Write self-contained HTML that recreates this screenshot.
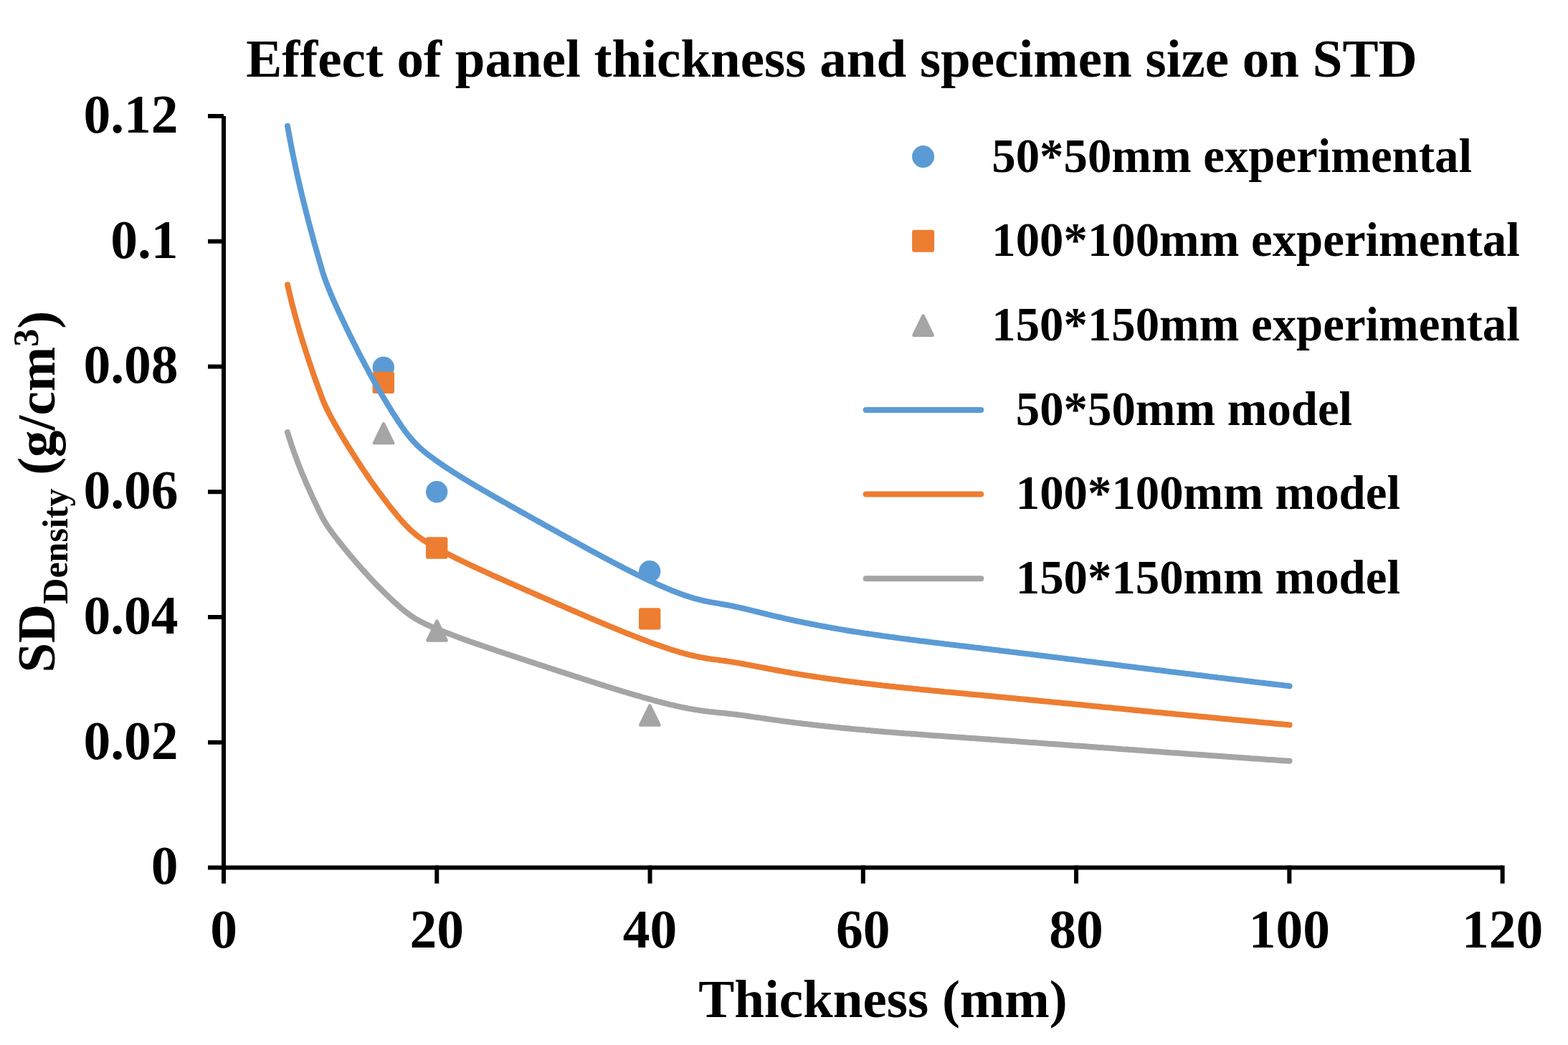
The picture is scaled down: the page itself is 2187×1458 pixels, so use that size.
<!DOCTYPE html><html><head><meta charset="utf-8"><title>Effect of panel thickness and specimen size on STD</title>
<style>html,body{margin:0;padding:0;background:#fff;width:2187px;height:1458px;overflow:hidden}svg{display:block}</style></head><body>
<svg width="2187" height="1458" viewBox="0 0 2187 1458">
<rect width="2187" height="1458" fill="#fff"/>
<text x="343.3" y="107" font-size="75" font-family="'Liberation Serif', serif" font-weight="bold" fill="#000">Effect of panel thickness and specimen size on STD</text>
<g stroke="#000" stroke-width="6" fill="none">
<line x1="312" y1="162" x2="312" y2="1232.7"/>
<line x1="309" y1="1210.5" x2="2095.6" y2="1210.5"/>
<line x1="290" y1="162.00" x2="312" y2="162.00"/>
<line x1="290" y1="336.75" x2="312" y2="336.75"/>
<line x1="290" y1="511.50" x2="312" y2="511.50"/>
<line x1="290" y1="686.25" x2="312" y2="686.25"/>
<line x1="290" y1="861.00" x2="312" y2="861.00"/>
<line x1="290" y1="1035.75" x2="312" y2="1035.75"/>
<line x1="290" y1="1210.50" x2="312" y2="1210.50"/>
<line x1="609.27" y1="1207.5" x2="609.27" y2="1232.7"/>
<line x1="906.54" y1="1207.5" x2="906.54" y2="1232.7"/>
<line x1="1203.81" y1="1207.5" x2="1203.81" y2="1232.7"/>
<line x1="1501.08" y1="1207.5" x2="1501.08" y2="1232.7"/>
<line x1="1798.35" y1="1207.5" x2="1798.35" y2="1232.7"/>
<line x1="2095.62" y1="1207.5" x2="2095.62" y2="1232.7"/>
</g>
<text x="248.5" y="1233.3" font-size="75.5" text-anchor="end" font-family="'Liberation Serif', serif" font-weight="bold">0</text>
<text x="248.5" y="1058.5" font-size="75.5" text-anchor="end" font-family="'Liberation Serif', serif" font-weight="bold">0.02</text>
<text x="248.5" y="883.8" font-size="75.5" text-anchor="end" font-family="'Liberation Serif', serif" font-weight="bold">0.04</text>
<text x="248.5" y="709.0" font-size="75.5" text-anchor="end" font-family="'Liberation Serif', serif" font-weight="bold">0.06</text>
<text x="248.5" y="534.3" font-size="75.5" text-anchor="end" font-family="'Liberation Serif', serif" font-weight="bold">0.08</text>
<text x="248.5" y="359.6" font-size="75.5" text-anchor="end" font-family="'Liberation Serif', serif" font-weight="bold">0.1</text>
<text x="248.5" y="184.8" font-size="75.5" text-anchor="end" font-family="'Liberation Serif', serif" font-weight="bold">0.12</text>
<text x="312.00" y="1322" font-size="75.5" text-anchor="middle" font-family="'Liberation Serif', serif" font-weight="bold">0</text>
<text x="609.27" y="1322" font-size="75.5" text-anchor="middle" font-family="'Liberation Serif', serif" font-weight="bold">20</text>
<text x="906.54" y="1322" font-size="75.5" text-anchor="middle" font-family="'Liberation Serif', serif" font-weight="bold">40</text>
<text x="1203.81" y="1322" font-size="75.5" text-anchor="middle" font-family="'Liberation Serif', serif" font-weight="bold">60</text>
<text x="1501.08" y="1322" font-size="75.5" text-anchor="middle" font-family="'Liberation Serif', serif" font-weight="bold">80</text>
<text x="1798.35" y="1322" font-size="75.5" text-anchor="middle" font-family="'Liberation Serif', serif" font-weight="bold">100</text>
<text x="2095.62" y="1322" font-size="75.5" text-anchor="middle" font-family="'Liberation Serif', serif" font-weight="bold">120</text>
<text x="974.2" y="1419.1" font-size="75" font-family="'Liberation Serif', serif" font-weight="bold">Thickness (mm)</text>
<text transform="translate(76,938.6) rotate(-90)" font-size="75" font-family="'Liberation Serif', serif" font-weight="bold">SD<tspan font-size="50" dy="18.3">Density</tspan><tspan dy="-18.3"> (g/cm</tspan><tspan font-size="50" dy="-23">3</tspan><tspan dy="23">)</tspan></text>
<circle cx="534.80" cy="512.60" r="15.20" fill="#5B9BD5"/>
<circle cx="609.20" cy="686.20" r="15.20" fill="#5B9BD5"/>
<circle cx="906.20" cy="797.30" r="15.20" fill="#5B9BD5"/>
<rect x="519.60" y="518.60" width="30.40" height="30.40" rx="3" fill="#ED7D31"/>
<rect x="594.00" y="749.30" width="30.40" height="30.40" rx="3" fill="#ED7D31"/>
<rect x="891.00" y="848.20" width="30.40" height="30.40" rx="3" fill="#ED7D31"/>
<polygon points="535.00,591.18 548.19,618.15 521.81,618.15" fill="#A5A5A5" stroke="#A5A5A5" stroke-width="4.4" stroke-linejoin="round"/>
<polygon points="609.50,866.58 622.69,893.55 596.31,893.55" fill="#A5A5A5" stroke="#A5A5A5" stroke-width="4.4" stroke-linejoin="round"/>
<polygon points="906.40,984.58 919.59,1011.55 893.21,1011.55" fill="#A5A5A5" stroke="#A5A5A5" stroke-width="4.4" stroke-linejoin="round"/>
<path d="M401.0 175.7 L401.9 181.0 L402.9 186.3 L403.9 191.7 L404.9 197.0 L405.9 202.3 L406.9 207.6 L408.0 212.9 L409.1 218.2 L410.2 223.5 L411.3 228.8 L412.4 234.1 L413.6 239.3 L414.7 244.6 L415.9 249.9 L417.1 255.2 L418.3 260.4 L419.6 265.7 L420.8 271.0 L422.1 276.2 L423.4 281.5 L424.7 286.7 L426.0 292.0 L427.3 297.2 L428.7 302.4 L430.0 307.7 L431.4 312.9 L432.8 318.1 L434.2 323.3 L435.6 328.6 L437.0 333.8 L438.4 339.0 L439.9 344.2 L441.3 349.4 L442.8 354.6 L444.3 359.8 L445.8 365.0 L447.3 370.1 L448.8 375.3 L450.3 380.5 L451.3 383.5 L452.3 386.4 L453.3 389.4 L454.4 392.3 L455.5 395.2 L456.6 398.1 L457.7 401.0 L458.9 403.9 L460.1 406.8 L461.3 409.7 L462.5 412.6 L463.7 415.5 L465.0 418.4 L466.2 421.2 L467.5 424.1 L468.8 426.9 L470.1 429.8 L471.4 432.6 L472.7 435.5 L474.0 438.3 L475.4 441.1 L476.7 444.0 L478.0 446.8 L479.4 449.6 L480.7 452.4 L482.1 455.3 L483.4 458.1 L484.8 460.9 L486.2 463.7 L487.5 466.5 L488.9 469.3 L490.3 472.1 L491.7 474.9 L493.1 477.7 L494.5 480.5 L495.9 483.2 L497.3 486.0 L498.7 488.8 L500.1 491.6 L501.5 494.3 L503.0 497.1 L504.4 499.9 L505.8 502.6 L507.3 505.4 L508.7 508.1 L510.2 510.9 L511.7 513.6 L513.2 516.4 L514.6 519.1 L516.1 521.9 L517.6 524.6 L519.1 527.3 L520.6 530.0 L522.2 532.8 L523.7 535.5 L525.2 538.2 L526.8 540.9 L528.3 543.6 L529.9 546.3 L531.5 549.0 L533.1 551.7 L534.7 554.4 L536.3 557.0 L537.9 559.7 L539.5 562.4 L541.1 565.1 L542.7 567.7 L544.4 570.4 L546.0 573.1 L547.7 575.7 L549.4 578.4 L551.1 581.0 L552.8 583.7 L554.5 586.3 L556.2 588.9 L558.0 591.5 L559.7 594.1 L561.5 596.7 L563.3 599.2 L565.2 601.8 L567.1 604.3 L569.0 606.7 L570.9 609.1 L572.9 611.5 L575.0 613.9 L577.0 616.2 L579.2 618.4 L581.3 620.7 L583.6 622.8 L585.8 624.9 L588.1 627.0 L590.5 629.0 L592.9 631.0 L595.3 633.0 L597.8 634.9 L600.3 636.8 L602.8 638.6 L605.3 640.4 L607.8 642.3 L610.4 644.1 L612.9 645.8 L615.5 647.6 L618.1 649.4 L620.6 651.1 L623.2 652.8 L625.8 654.5 L628.4 656.2 L631.0 657.9 L633.6 659.6 L636.2 661.2 L638.9 662.9 L641.5 664.5 L644.1 666.2 L646.8 667.8 L649.4 669.4 L652.1 671.0 L654.7 672.6 L657.4 674.2 L660.1 675.8 L662.7 677.4 L665.4 679.0 L668.1 680.6 L670.8 682.1 L673.5 683.7 L676.2 685.3 L678.9 686.8 L681.6 688.4 L684.3 689.9 L687.0 691.5 L689.7 693.0 L692.4 694.6 L695.2 696.1 L697.9 697.7 L700.6 699.2 L703.3 700.8 L706.1 702.3 L708.8 703.9 L711.5 705.4 L714.3 707.0 L717.0 708.5 L719.8 710.1 L722.5 711.6 L725.3 713.2 L728.0 714.7 L730.8 716.3 L733.5 717.8 L736.3 719.4 L739.0 720.9 L741.8 722.4 L744.5 724.0 L747.3 725.5 L750.0 727.1 L752.8 728.6 L755.5 730.1 L758.3 731.7 L761.0 733.2 L763.8 734.7 L766.5 736.2 L769.3 737.8 L772.0 739.3 L774.8 740.8 L777.5 742.3 L780.3 743.9 L783.0 745.4 L785.8 746.9 L788.5 748.4 L791.2 749.9 L794.0 751.4 L796.7 752.9 L799.4 754.4 L802.2 755.9 L804.9 757.4 L807.6 758.9 L810.3 760.4 L813.1 761.9 L815.8 763.4 L818.5 764.9 L821.2 766.4 L823.9 767.9 L826.6 769.4 L829.4 770.8 L832.1 772.3 L834.8 773.8 L837.5 775.2 L840.2 776.7 L843.0 778.2 L845.7 779.6 L848.4 781.1 L851.2 782.5 L853.9 784.0 L856.6 785.4 L859.4 786.8 L862.1 788.3 L864.9 789.7 L867.6 791.1 L870.4 792.6 L873.2 794.0 L875.9 795.4 L878.7 796.8 L881.5 798.2 L884.3 799.6 L887.1 801.0 L889.9 802.4 L892.7 803.7 L895.5 805.1 L898.3 806.5 L901.2 807.9 L904.0 809.2 L906.9 810.6 L909.7 811.9 L912.6 813.2 L915.5 814.6 L918.4 815.9 L921.3 817.2 L924.2 818.4 L927.1 819.7 L930.0 820.9 L932.9 822.2 L935.8 823.4 L938.8 824.5 L941.7 825.7 L944.7 826.8 L947.6 827.9 L950.6 829.0 L953.5 830.1 L956.5 831.1 L959.5 832.0 L962.4 833.0 L965.4 833.9 L968.4 834.8 L971.4 835.6 L974.4 836.4 L977.4 837.2 L980.4 837.9 L983.4 838.6 L986.4 839.2 L989.4 839.8 L992.4 840.4 L995.4 840.9 L998.5 841.4 L1001.5 841.9 L1004.5 842.4 L1007.5 843.0 L1010.6 843.5 L1013.6 844.0 L1016.6 844.6 L1019.6 845.2 L1022.7 845.8 L1025.7 846.5 L1028.8 847.1 L1031.8 847.8 L1034.8 848.5 L1037.9 849.2 L1040.9 849.9 L1043.9 850.6 L1047.0 851.4 L1050.0 852.1 L1053.1 852.8 L1056.1 853.6 L1059.2 854.4 L1062.2 855.1 L1065.3 855.9 L1068.3 856.6 L1071.4 857.4 L1074.4 858.1 L1077.5 858.9 L1080.5 859.6 L1083.6 860.3 L1086.7 861.0 L1089.7 861.7 L1092.8 862.4 L1095.8 863.1 L1098.9 863.8 L1102.0 864.5 L1105.0 865.1 L1108.1 865.8 L1111.2 866.5 L1114.2 867.1 L1117.3 867.7 L1120.4 868.4 L1123.4 869.0 L1126.5 869.6 L1129.6 870.2 L1132.6 870.8 L1135.7 871.4 L1138.8 872.0 L1141.9 872.6 L1144.9 873.2 L1148.0 873.8 L1151.1 874.3 L1154.2 874.9 L1157.2 875.4 L1160.3 876.0 L1163.4 876.5 L1166.5 877.1 L1169.6 877.6 L1172.6 878.1 L1175.7 878.6 L1178.8 879.2 L1181.9 879.7 L1185.0 880.2 L1188.0 880.7 L1191.1 881.2 L1194.2 881.6 L1197.3 882.1 L1200.4 882.6 L1203.5 883.1 L1206.5 883.6 L1209.6 884.0 L1212.7 884.5 L1215.8 884.9 L1218.9 885.4 L1222.0 885.8 L1225.1 886.3 L1228.1 886.7 L1231.2 887.2 L1234.3 887.6 L1237.4 888.0 L1240.5 888.5 L1243.6 888.9 L1246.7 889.3 L1249.8 889.7 L1252.8 890.1 L1255.9 890.6 L1259.0 891.0 L1262.1 891.4 L1265.2 891.8 L1268.3 892.2 L1271.4 892.6 L1274.5 893.0 L1277.6 893.4 L1280.7 893.8 L1283.8 894.2 L1286.9 894.5 L1290.0 894.9 L1293.0 895.3 L1296.1 895.7 L1299.2 896.1 L1302.3 896.5 L1305.4 896.8 L1308.5 897.2 L1311.6 897.6 L1314.7 898.0 L1317.8 898.4 L1320.9 898.7 L1324.0 899.1 L1327.1 899.5 L1330.2 899.8 L1333.3 900.2 L1336.4 900.6 L1339.5 901.0 L1342.6 901.3 L1345.7 901.7 L1348.8 902.1 L1351.9 902.4 L1355.0 902.8 L1358.1 903.2 L1361.2 903.6 L1364.3 903.9 L1367.4 904.3 L1370.5 904.7 L1373.6 905.1 L1376.7 905.4 L1379.8 905.8 L1382.9 906.2 L1386.0 906.6 L1389.1 906.9 L1392.2 907.3 L1395.3 907.7 L1398.4 908.1 L1401.5 908.5 L1404.6 908.8 L1407.7 909.2 L1410.8 909.6 L1413.9 910.0 L1417.0 910.3 L1420.1 910.7 L1423.2 911.1 L1426.3 911.5 L1429.4 911.9 L1432.5 912.3 L1435.6 912.6 L1438.7 913.0 L1441.8 913.4 L1444.9 913.8 L1448.0 914.2 L1451.1 914.6 L1454.2 914.9 L1457.3 915.3 L1460.5 915.7 L1463.6 916.1 L1466.7 916.5 L1469.8 916.9 L1472.9 917.2 L1476.0 917.6 L1479.1 918.0 L1482.2 918.4 L1485.3 918.8 L1488.4 919.2 L1491.5 919.6 L1494.6 919.9 L1497.7 920.3 L1500.8 920.7 L1503.9 921.1 L1507.0 921.5 L1510.1 921.9 L1513.2 922.3 L1516.3 922.7 L1519.5 923.0 L1522.6 923.4 L1525.7 923.8 L1528.8 924.2 L1531.9 924.6 L1535.0 925.0 L1538.1 925.4 L1541.2 925.8 L1544.3 926.1 L1547.4 926.5 L1550.5 926.9 L1553.6 927.3 L1556.7 927.7 L1559.8 928.1 L1562.9 928.5 L1566.0 928.9 L1569.1 929.2 L1572.2 929.6 L1575.3 930.0 L1578.5 930.4 L1581.6 930.8 L1584.7 931.2 L1587.8 931.6 L1590.9 932.0 L1594.0 932.3 L1597.1 932.7 L1600.2 933.1 L1603.3 933.5 L1606.4 933.9 L1609.5 934.3 L1612.6 934.7 L1615.7 935.0 L1618.8 935.4 L1621.9 935.8 L1625.0 936.2 L1628.1 936.6 L1631.2 937.0 L1634.3 937.4 L1637.4 937.7 L1640.5 938.1 L1643.7 938.5 L1646.8 938.9 L1649.9 939.3 L1653.0 939.7 L1656.1 940.0 L1659.2 940.4 L1662.3 940.8 L1665.4 941.2 L1668.5 941.6 L1671.6 942.0 L1674.7 942.3 L1677.8 942.7 L1680.9 943.1 L1684.0 943.5 L1687.1 943.9 L1690.2 944.2 L1693.3 944.6 L1696.4 945.0 L1699.5 945.4 L1702.6 945.7 L1705.7 946.1 L1708.8 946.5 L1711.9 946.9 L1715.0 947.2 L1718.1 947.6 L1721.2 948.0 L1724.3 948.4 L1727.4 948.7 L1730.5 949.1 L1733.6 949.5 L1736.7 949.9 L1739.8 950.2 L1742.9 950.6 L1746.0 951.0 L1749.1 951.4 L1752.2 951.7 L1755.3 952.1 L1758.4 952.5 L1761.5 952.8 L1764.6 953.2 L1767.7 953.6 L1770.8 953.9 L1773.8 954.3 L1776.9 954.7 L1780.0 955.0 L1783.1 955.4 L1786.2 955.8 L1789.3 956.1 L1792.4 956.5 L1795.5 956.8 L1798.6 957.2" fill="none" stroke="#5B9BD5" stroke-width="8" stroke-linecap="round" stroke-linejoin="round"/>
<path d="M401.0 397.1 L401.9 401.3 L402.9 405.5 L403.9 409.7 L404.9 413.9 L405.9 418.0 L406.9 422.2 L408.0 426.4 L409.1 430.5 L410.2 434.7 L411.3 438.9 L412.4 443.0 L413.6 447.2 L414.7 451.3 L415.9 455.5 L417.1 459.6 L418.3 463.8 L419.6 467.9 L420.8 472.0 L422.1 476.2 L423.4 480.3 L424.7 484.4 L426.0 488.5 L427.3 492.6 L428.7 496.8 L430.0 500.9 L431.4 505.0 L432.8 509.1 L434.2 513.2 L435.6 517.3 L437.0 521.4 L438.4 525.5 L439.9 529.6 L441.3 533.7 L442.8 537.7 L444.3 541.8 L445.8 545.9 L447.3 550.0 L448.8 554.1 L450.3 558.1 L451.3 560.4 L452.3 562.8 L453.3 565.1 L454.4 567.4 L455.5 569.7 L456.6 572.0 L457.7 574.3 L458.9 576.5 L460.1 578.8 L461.3 581.1 L462.5 583.4 L463.7 585.6 L465.0 587.9 L466.2 590.1 L467.5 592.4 L468.8 594.6 L470.1 596.9 L471.4 599.1 L472.7 601.3 L474.0 603.6 L475.4 605.8 L476.7 608.0 L478.0 610.2 L479.4 612.5 L480.7 614.7 L482.1 616.9 L483.4 619.1 L484.8 621.3 L486.2 623.5 L487.5 625.7 L488.9 627.9 L490.3 630.1 L491.7 632.3 L493.1 634.5 L494.5 636.7 L495.9 638.9 L497.3 641.1 L498.7 643.2 L500.1 645.4 L501.5 647.6 L503.0 649.8 L504.4 652.0 L505.8 654.1 L507.3 656.3 L508.7 658.4 L510.2 660.6 L511.7 662.8 L513.2 664.9 L514.6 667.1 L516.1 669.2 L517.6 671.4 L519.1 673.5 L520.6 675.7 L522.2 677.8 L523.7 679.9 L525.2 682.1 L526.8 684.2 L528.3 686.3 L529.9 688.4 L531.5 690.5 L533.1 692.7 L534.7 694.8 L536.3 696.9 L537.9 699.0 L539.5 701.1 L541.1 703.2 L542.7 705.3 L544.4 707.4 L546.0 709.5 L547.7 711.6 L549.4 713.6 L551.1 715.7 L552.8 717.8 L554.5 719.9 L556.2 721.9 L558.0 724.0 L559.7 726.0 L561.5 728.0 L563.3 730.0 L565.2 732.0 L567.1 734.0 L569.0 735.9 L570.9 737.8 L572.9 739.7 L575.0 741.6 L577.0 743.4 L579.2 745.1 L581.3 746.9 L583.6 748.6 L585.8 750.2 L588.1 751.9 L590.5 753.5 L592.9 755.0 L595.3 756.5 L597.8 758.1 L600.3 759.5 L602.8 761.0 L605.3 762.4 L607.8 763.9 L610.4 765.3 L612.9 766.7 L615.5 768.1 L618.1 769.4 L620.6 770.8 L623.2 772.2 L625.8 773.5 L628.4 774.8 L631.0 776.2 L633.6 777.5 L636.2 778.8 L638.9 780.1 L641.5 781.4 L644.1 782.7 L646.8 783.9 L649.4 785.2 L652.1 786.5 L654.7 787.7 L657.4 789.0 L660.1 790.2 L662.7 791.5 L665.4 792.7 L668.1 794.0 L670.8 795.2 L673.5 796.4 L676.2 797.7 L678.9 798.9 L681.6 800.1 L684.3 801.3 L687.0 802.6 L689.7 803.8 L692.4 805.0 L695.2 806.2 L697.9 807.4 L700.6 808.7 L703.3 809.9 L706.1 811.1 L708.8 812.3 L711.5 813.5 L714.3 814.7 L717.0 816.0 L719.8 817.2 L722.5 818.4 L725.3 819.6 L728.0 820.8 L730.8 822.0 L733.5 823.3 L736.3 824.5 L739.0 825.7 L741.8 826.9 L744.5 828.1 L747.3 829.3 L750.0 830.5 L752.8 831.7 L755.5 832.9 L758.3 834.1 L761.0 835.3 L763.8 836.5 L766.5 837.7 L769.3 838.9 L772.0 840.1 L774.8 841.3 L777.5 842.5 L780.3 843.7 L783.0 844.9 L785.8 846.1 L788.5 847.3 L791.2 848.5 L794.0 849.7 L796.7 850.8 L799.4 852.0 L802.2 853.2 L804.9 854.4 L807.6 855.6 L810.3 856.7 L813.1 857.9 L815.8 859.1 L818.5 860.3 L821.2 861.4 L823.9 862.6 L826.6 863.8 L829.4 864.9 L832.1 866.1 L834.8 867.2 L837.5 868.4 L840.2 869.5 L843.0 870.7 L845.7 871.8 L848.4 873.0 L851.2 874.1 L853.9 875.2 L856.6 876.4 L859.4 877.5 L862.1 878.6 L864.9 879.8 L867.6 880.9 L870.4 882.0 L873.2 883.1 L875.9 884.2 L878.7 885.3 L881.5 886.4 L884.3 887.5 L887.1 888.6 L889.9 889.7 L892.7 890.8 L895.5 891.9 L898.3 893.0 L901.2 894.0 L904.0 895.1 L906.9 896.2 L909.7 897.2 L912.6 898.3 L915.5 899.3 L918.4 900.3 L921.3 901.3 L924.2 902.3 L927.1 903.3 L930.0 904.3 L932.9 905.3 L935.8 906.2 L938.8 907.1 L941.7 908.0 L944.7 908.9 L947.6 909.8 L950.6 910.6 L953.5 911.5 L956.5 912.3 L959.5 913.0 L962.4 913.8 L965.4 914.5 L968.4 915.2 L971.4 915.8 L974.4 916.5 L977.4 917.1 L980.4 917.6 L983.4 918.2 L986.4 918.7 L989.4 919.1 L992.4 919.6 L995.4 920.0 L998.5 920.4 L1001.5 920.8 L1004.5 921.2 L1007.5 921.6 L1010.6 922.0 L1013.6 922.5 L1016.6 922.9 L1019.6 923.4 L1022.7 923.9 L1025.7 924.4 L1028.8 924.9 L1031.8 925.4 L1034.8 926.0 L1037.9 926.5 L1040.9 927.1 L1043.9 927.6 L1047.0 928.2 L1050.0 928.8 L1053.1 929.4 L1056.1 930.0 L1059.2 930.6 L1062.2 931.2 L1065.3 931.8 L1068.3 932.3 L1071.4 932.9 L1074.4 933.5 L1077.5 934.1 L1080.5 934.7 L1083.6 935.2 L1086.7 935.8 L1089.7 936.4 L1092.8 936.9 L1095.8 937.5 L1098.9 938.0 L1102.0 938.5 L1105.0 939.1 L1108.1 939.6 L1111.2 940.1 L1114.2 940.6 L1117.3 941.1 L1120.4 941.6 L1123.4 942.1 L1126.5 942.6 L1129.6 943.0 L1132.6 943.5 L1135.7 944.0 L1138.8 944.5 L1141.9 944.9 L1144.9 945.4 L1148.0 945.8 L1151.1 946.3 L1154.2 946.7 L1157.2 947.1 L1160.3 947.6 L1163.4 948.0 L1166.5 948.4 L1169.6 948.8 L1172.6 949.2 L1175.7 949.7 L1178.8 950.1 L1181.9 950.5 L1185.0 950.9 L1188.0 951.2 L1191.1 951.6 L1194.2 952.0 L1197.3 952.4 L1200.4 952.8 L1203.5 953.2 L1206.5 953.5 L1209.6 953.9 L1212.7 954.3 L1215.8 954.6 L1218.9 955.0 L1222.0 955.3 L1225.1 955.7 L1228.1 956.0 L1231.2 956.4 L1234.3 956.7 L1237.4 957.0 L1240.5 957.4 L1243.6 957.7 L1246.7 958.0 L1249.8 958.4 L1252.8 958.7 L1255.9 959.0 L1259.0 959.3 L1262.1 959.7 L1265.2 960.0 L1268.3 960.3 L1271.4 960.6 L1274.5 960.9 L1277.6 961.2 L1280.7 961.5 L1283.8 961.9 L1286.9 962.2 L1290.0 962.5 L1293.0 962.8 L1296.1 963.1 L1299.2 963.4 L1302.3 963.7 L1305.4 964.0 L1308.5 964.3 L1311.6 964.6 L1314.7 964.9 L1317.8 965.2 L1320.9 965.4 L1324.0 965.7 L1327.1 966.0 L1330.2 966.3 L1333.3 966.6 L1336.4 966.9 L1339.5 967.2 L1342.6 967.5 L1345.7 967.8 L1348.8 968.1 L1351.9 968.4 L1355.0 968.7 L1358.1 969.0 L1361.2 969.2 L1364.3 969.5 L1367.4 969.8 L1370.5 970.1 L1373.6 970.4 L1376.7 970.7 L1379.8 971.0 L1382.9 971.3 L1386.0 971.6 L1389.1 971.9 L1392.2 972.2 L1395.3 972.5 L1398.4 972.8 L1401.5 973.1 L1404.6 973.4 L1407.7 973.7 L1410.8 974.0 L1413.9 974.3 L1417.0 974.6 L1420.1 974.9 L1423.2 975.2 L1426.3 975.5 L1429.4 975.8 L1432.5 976.1 L1435.6 976.4 L1438.7 976.7 L1441.8 977.0 L1444.9 977.3 L1448.0 977.6 L1451.1 977.9 L1454.2 978.2 L1457.3 978.5 L1460.5 978.8 L1463.6 979.1 L1466.7 979.4 L1469.8 979.7 L1472.9 980.0 L1476.0 980.3 L1479.1 980.6 L1482.2 980.9 L1485.3 981.2 L1488.4 981.5 L1491.5 981.8 L1494.6 982.1 L1497.7 982.4 L1500.8 982.7 L1503.9 983.0 L1507.0 983.3 L1510.1 983.6 L1513.2 983.9 L1516.3 984.3 L1519.5 984.6 L1522.6 984.9 L1525.7 985.2 L1528.8 985.5 L1531.9 985.8 L1535.0 986.1 L1538.1 986.4 L1541.2 986.7 L1544.3 987.0 L1547.4 987.3 L1550.5 987.6 L1553.6 987.9 L1556.7 988.2 L1559.8 988.5 L1562.9 988.8 L1566.0 989.1 L1569.1 989.4 L1572.2 989.7 L1575.3 990.0 L1578.5 990.3 L1581.6 990.7 L1584.7 991.0 L1587.8 991.3 L1590.9 991.6 L1594.0 991.9 L1597.1 992.2 L1600.2 992.5 L1603.3 992.8 L1606.4 993.1 L1609.5 993.4 L1612.6 993.7 L1615.7 994.0 L1618.8 994.3 L1621.9 994.6 L1625.0 994.9 L1628.1 995.2 L1631.2 995.5 L1634.3 995.8 L1637.4 996.1 L1640.5 996.4 L1643.7 996.7 L1646.8 997.0 L1649.9 997.3 L1653.0 997.6 L1656.1 997.9 L1659.2 998.2 L1662.3 998.5 L1665.4 998.8 L1668.5 999.1 L1671.6 999.4 L1674.7 999.7 L1677.8 1000.0 L1680.9 1000.3 L1684.0 1000.6 L1687.1 1000.9 L1690.2 1001.2 L1693.3 1001.5 L1696.4 1001.8 L1699.5 1002.1 L1702.6 1002.4 L1705.7 1002.7 L1708.8 1003.0 L1711.9 1003.3 L1715.0 1003.6 L1718.1 1003.9 L1721.2 1004.2 L1724.3 1004.5 L1727.4 1004.8 L1730.5 1005.1 L1733.6 1005.4 L1736.7 1005.6 L1739.8 1005.9 L1742.9 1006.2 L1746.0 1006.5 L1749.1 1006.8 L1752.2 1007.1 L1755.3 1007.4 L1758.4 1007.7 L1761.5 1008.0 L1764.6 1008.3 L1767.7 1008.5 L1770.8 1008.8 L1773.8 1009.1 L1776.9 1009.4 L1780.0 1009.7 L1783.1 1010.0 L1786.2 1010.3 L1789.3 1010.6 L1792.4 1010.8 L1795.5 1011.1 L1798.6 1011.4" fill="none" stroke="#ED7D31" stroke-width="8" stroke-linecap="round" stroke-linejoin="round"/>
<path d="M401.0 603.1 L401.9 606.2 L402.9 609.3 L403.9 612.4 L404.9 615.6 L405.9 618.7 L406.9 621.8 L408.0 624.9 L409.1 628.0 L410.2 631.1 L411.3 634.2 L412.4 637.3 L413.6 640.4 L414.7 643.5 L415.9 646.6 L417.1 649.7 L418.3 652.8 L419.6 655.9 L420.8 659.0 L422.1 662.1 L423.4 665.2 L424.7 668.2 L426.0 671.3 L427.3 674.4 L428.7 677.5 L430.0 680.5 L431.4 683.6 L432.8 686.7 L434.2 689.7 L435.6 692.8 L437.0 695.9 L438.4 698.9 L439.9 702.0 L441.3 705.0 L442.8 708.1 L444.3 711.1 L445.8 714.2 L447.3 717.2 L448.8 720.3 L450.3 723.3 L451.3 725.0 L452.3 726.8 L453.3 728.5 L454.4 730.2 L455.5 731.9 L456.6 733.6 L457.7 735.3 L458.9 737.1 L460.1 738.8 L461.3 740.4 L462.5 742.1 L463.7 743.8 L465.0 745.5 L466.2 747.2 L467.5 748.9 L468.8 750.6 L470.1 752.2 L471.4 753.9 L472.7 755.6 L474.0 757.2 L475.4 758.9 L476.7 760.5 L478.0 762.2 L479.4 763.9 L480.7 765.5 L482.1 767.2 L483.4 768.8 L484.8 770.5 L486.2 772.1 L487.5 773.8 L488.9 775.4 L490.3 777.1 L491.7 778.7 L493.1 780.3 L494.5 782.0 L495.9 783.6 L497.3 785.2 L498.7 786.9 L500.1 788.5 L501.5 790.1 L503.0 791.7 L504.4 793.4 L505.8 795.0 L507.3 796.6 L508.7 798.2 L510.2 799.8 L511.7 801.4 L513.2 803.1 L514.6 804.7 L516.1 806.3 L517.6 807.9 L519.1 809.5 L520.6 811.1 L522.2 812.7 L523.7 814.3 L525.2 815.8 L526.8 817.4 L528.3 819.0 L529.9 820.6 L531.5 822.2 L533.1 823.8 L534.7 825.3 L536.3 826.9 L537.9 828.5 L539.5 830.1 L541.1 831.6 L542.7 833.2 L544.4 834.8 L546.0 836.3 L547.7 837.9 L549.4 839.4 L551.1 841.0 L552.8 842.5 L554.5 844.1 L556.2 845.6 L558.0 847.2 L559.7 848.7 L561.5 850.2 L563.3 851.7 L565.2 853.2 L567.1 854.6 L569.0 856.1 L570.9 857.5 L572.9 858.9 L575.0 860.3 L577.0 861.6 L579.2 863.0 L581.3 864.3 L583.6 865.5 L585.8 866.8 L588.1 868.0 L590.5 869.2 L592.9 870.3 L595.3 871.5 L597.8 872.6 L600.3 873.7 L602.8 874.8 L605.3 875.9 L607.8 876.9 L610.4 878.0 L612.9 879.0 L615.5 880.1 L618.1 881.1 L620.6 882.1 L623.2 883.1 L625.8 884.1 L628.4 885.1 L631.0 886.1 L633.6 887.1 L636.2 888.1 L638.9 889.1 L641.5 890.0 L644.1 891.0 L646.8 891.9 L649.4 892.9 L652.1 893.8 L654.7 894.8 L657.4 895.7 L660.1 896.6 L662.7 897.6 L665.4 898.5 L668.1 899.4 L670.8 900.3 L673.5 901.3 L676.2 902.2 L678.9 903.1 L681.6 904.0 L684.3 904.9 L687.0 905.8 L689.7 906.7 L692.4 907.7 L695.2 908.6 L697.9 909.5 L700.6 910.4 L703.3 911.3 L706.1 912.2 L708.8 913.1 L711.5 914.0 L714.3 914.9 L717.0 915.9 L719.8 916.8 L722.5 917.7 L725.3 918.6 L728.0 919.5 L730.8 920.4 L733.5 921.3 L736.3 922.2 L739.0 923.1 L741.8 924.0 L744.5 924.9 L747.3 925.8 L750.0 926.7 L752.8 927.6 L755.5 928.5 L758.3 929.4 L761.0 930.3 L763.8 931.2 L766.5 932.1 L769.3 933.0 L772.0 933.9 L774.8 934.8 L777.5 935.7 L780.3 936.6 L783.0 937.5 L785.8 938.4 L788.5 939.2 L791.2 940.1 L794.0 941.0 L796.7 941.9 L799.4 942.8 L802.2 943.7 L804.9 944.6 L807.6 945.4 L810.3 946.3 L813.1 947.2 L815.8 948.1 L818.5 948.9 L821.2 949.8 L823.9 950.7 L826.6 951.5 L829.4 952.4 L832.1 953.3 L834.8 954.1 L837.5 955.0 L840.2 955.9 L843.0 956.7 L845.7 957.6 L848.4 958.4 L851.2 959.3 L853.9 960.1 L856.6 961.0 L859.4 961.8 L862.1 962.7 L864.9 963.5 L867.6 964.3 L870.4 965.2 L873.2 966.0 L875.9 966.8 L878.7 967.7 L881.5 968.5 L884.3 969.3 L887.1 970.1 L889.9 970.9 L892.7 971.7 L895.5 972.5 L898.3 973.3 L901.2 974.2 L904.0 974.9 L906.9 975.7 L909.7 976.5 L912.6 977.3 L915.5 978.1 L918.4 978.9 L921.3 979.6 L924.2 980.4 L927.1 981.1 L930.0 981.8 L932.9 982.6 L935.8 983.3 L938.8 983.9 L941.7 984.6 L944.7 985.3 L947.6 985.9 L950.6 986.6 L953.5 987.2 L956.5 987.8 L959.5 988.3 L962.4 988.9 L965.4 989.4 L968.4 990.0 L971.4 990.4 L974.4 990.9 L977.4 991.4 L980.4 991.8 L983.4 992.2 L986.4 992.5 L989.4 992.9 L992.4 993.2 L995.4 993.5 L998.5 993.9 L1001.5 994.2 L1004.5 994.5 L1007.5 994.8 L1010.6 995.1 L1013.6 995.4 L1016.6 995.7 L1019.6 996.1 L1022.7 996.4 L1025.7 996.8 L1028.8 997.2 L1031.8 997.6 L1034.8 998.0 L1037.9 998.4 L1040.9 998.8 L1043.9 999.3 L1047.0 999.7 L1050.0 1000.1 L1053.1 1000.6 L1056.1 1001.0 L1059.2 1001.4 L1062.2 1001.9 L1065.3 1002.3 L1068.3 1002.8 L1071.4 1003.2 L1074.4 1003.6 L1077.5 1004.1 L1080.5 1004.5 L1083.6 1004.9 L1086.7 1005.4 L1089.7 1005.8 L1092.8 1006.2 L1095.8 1006.6 L1098.9 1007.0 L1102.0 1007.4 L1105.0 1007.8 L1108.1 1008.2 L1111.2 1008.6 L1114.2 1008.9 L1117.3 1009.3 L1120.4 1009.7 L1123.4 1010.0 L1126.5 1010.4 L1129.6 1010.8 L1132.6 1011.1 L1135.7 1011.5 L1138.8 1011.8 L1141.9 1012.2 L1144.9 1012.5 L1148.0 1012.8 L1151.1 1013.2 L1154.2 1013.5 L1157.2 1013.8 L1160.3 1014.1 L1163.4 1014.5 L1166.5 1014.8 L1169.6 1015.1 L1172.6 1015.4 L1175.7 1015.7 L1178.8 1016.0 L1181.9 1016.3 L1185.0 1016.6 L1188.0 1016.9 L1191.1 1017.2 L1194.2 1017.5 L1197.3 1017.7 L1200.4 1018.0 L1203.5 1018.3 L1206.5 1018.6 L1209.6 1018.9 L1212.7 1019.1 L1215.8 1019.4 L1218.9 1019.7 L1222.0 1019.9 L1225.1 1020.2 L1228.1 1020.4 L1231.2 1020.7 L1234.3 1021.0 L1237.4 1021.2 L1240.5 1021.5 L1243.6 1021.7 L1246.7 1022.0 L1249.8 1022.2 L1252.8 1022.5 L1255.9 1022.7 L1259.0 1022.9 L1262.1 1023.2 L1265.2 1023.4 L1268.3 1023.6 L1271.4 1023.9 L1274.5 1024.1 L1277.6 1024.3 L1280.7 1024.6 L1283.8 1024.8 L1286.9 1025.0 L1290.0 1025.3 L1293.0 1025.5 L1296.1 1025.7 L1299.2 1025.9 L1302.3 1026.2 L1305.4 1026.4 L1308.5 1026.6 L1311.6 1026.8 L1314.7 1027.0 L1317.8 1027.3 L1320.9 1027.5 L1324.0 1027.7 L1327.1 1027.9 L1330.2 1028.1 L1333.3 1028.4 L1336.4 1028.6 L1339.5 1028.8 L1342.6 1029.0 L1345.7 1029.2 L1348.8 1029.5 L1351.9 1029.7 L1355.0 1029.9 L1358.1 1030.1 L1361.2 1030.3 L1364.3 1030.5 L1367.4 1030.8 L1370.5 1031.0 L1373.6 1031.2 L1376.7 1031.4 L1379.8 1031.6 L1382.9 1031.9 L1386.0 1032.1 L1389.1 1032.3 L1392.2 1032.5 L1395.3 1032.8 L1398.4 1033.0 L1401.5 1033.2 L1404.6 1033.4 L1407.7 1033.6 L1410.8 1033.9 L1413.9 1034.1 L1417.0 1034.3 L1420.1 1034.5 L1423.2 1034.8 L1426.3 1035.0 L1429.4 1035.2 L1432.5 1035.4 L1435.6 1035.7 L1438.7 1035.9 L1441.8 1036.1 L1444.9 1036.3 L1448.0 1036.6 L1451.1 1036.8 L1454.2 1037.0 L1457.3 1037.2 L1460.5 1037.5 L1463.6 1037.7 L1466.7 1037.9 L1469.8 1038.1 L1472.9 1038.4 L1476.0 1038.6 L1479.1 1038.8 L1482.2 1039.0 L1485.3 1039.3 L1488.4 1039.5 L1491.5 1039.7 L1494.6 1039.9 L1497.7 1040.2 L1500.8 1040.4 L1503.9 1040.6 L1507.0 1040.9 L1510.1 1041.1 L1513.2 1041.3 L1516.3 1041.5 L1519.5 1041.8 L1522.6 1042.0 L1525.7 1042.2 L1528.8 1042.4 L1531.9 1042.7 L1535.0 1042.9 L1538.1 1043.1 L1541.2 1043.4 L1544.3 1043.6 L1547.4 1043.8 L1550.5 1044.0 L1553.6 1044.3 L1556.7 1044.5 L1559.8 1044.7 L1562.9 1044.9 L1566.0 1045.2 L1569.1 1045.4 L1572.2 1045.6 L1575.3 1045.9 L1578.5 1046.1 L1581.6 1046.3 L1584.7 1046.5 L1587.8 1046.8 L1590.9 1047.0 L1594.0 1047.2 L1597.1 1047.4 L1600.2 1047.7 L1603.3 1047.9 L1606.4 1048.1 L1609.5 1048.4 L1612.6 1048.6 L1615.7 1048.8 L1618.8 1049.0 L1621.9 1049.3 L1625.0 1049.5 L1628.1 1049.7 L1631.2 1049.9 L1634.3 1050.2 L1637.4 1050.4 L1640.5 1050.6 L1643.7 1050.8 L1646.8 1051.1 L1649.9 1051.3 L1653.0 1051.5 L1656.1 1051.7 L1659.2 1052.0 L1662.3 1052.2 L1665.4 1052.4 L1668.5 1052.6 L1671.6 1052.9 L1674.7 1053.1 L1677.8 1053.3 L1680.9 1053.5 L1684.0 1053.8 L1687.1 1054.0 L1690.2 1054.2 L1693.3 1054.4 L1696.4 1054.6 L1699.5 1054.9 L1702.6 1055.1 L1705.7 1055.3 L1708.8 1055.5 L1711.9 1055.8 L1715.0 1056.0 L1718.1 1056.2 L1721.2 1056.4 L1724.3 1056.6 L1727.4 1056.9 L1730.5 1057.1 L1733.6 1057.3 L1736.7 1057.5 L1739.8 1057.7 L1742.9 1057.9 L1746.0 1058.2 L1749.1 1058.4 L1752.2 1058.6 L1755.3 1058.8 L1758.4 1059.0 L1761.5 1059.2 L1764.6 1059.5 L1767.7 1059.7 L1770.8 1059.9 L1773.8 1060.1 L1776.9 1060.3 L1780.0 1060.5 L1783.1 1060.8 L1786.2 1061.0 L1789.3 1061.2 L1792.4 1061.4 L1795.5 1061.6 L1798.6 1061.8" fill="none" stroke="#A5A5A5" stroke-width="8" stroke-linecap="round" stroke-linejoin="round"/>
<circle cx="1287.60" cy="218.60" r="15.50" fill="#5B9BD5"/>
<rect x="1272.10" y="320.70" width="31.00" height="31.00" rx="3" fill="#ED7D31"/>
<polygon points="1287.60,440.43 1300.79,467.70 1274.41,467.70" fill="#A5A5A5" stroke="#A5A5A5" stroke-width="4.4" stroke-linejoin="round"/>
<line x1="1207.7" y1="571.9" x2="1368.3" y2="571.9" stroke="#5B9BD5" stroke-width="8" stroke-linecap="round"/>
<line x1="1207.7" y1="689.6" x2="1368.3" y2="689.6" stroke="#ED7D31" stroke-width="8" stroke-linecap="round"/>
<line x1="1207.7" y1="807.3" x2="1368.3" y2="807.3" stroke="#A5A5A5" stroke-width="8" stroke-linecap="round"/>
<text x="1383.3" y="239.6" font-size="66.8" font-family="'Liberation Serif', serif" font-weight="bold">50*50mm experimental</text>
<text x="1383.3" y="356.8" font-size="66.8" font-family="'Liberation Serif', serif" font-weight="bold">100*100mm experimental</text>
<text x="1383.3" y="474.5" font-size="66.8" font-family="'Liberation Serif', serif" font-weight="bold">150*150mm experimental</text>
<text x="1416.8" y="592.9" font-size="66.8" font-family="'Liberation Serif', serif" font-weight="bold">50*50mm model</text>
<text x="1416.8" y="709.6" font-size="66.8" font-family="'Liberation Serif', serif" font-weight="bold">100*100mm model</text>
<text x="1416.8" y="828.3" font-size="66.8" font-family="'Liberation Serif', serif" font-weight="bold">150*150mm model</text>
</svg></body></html>
